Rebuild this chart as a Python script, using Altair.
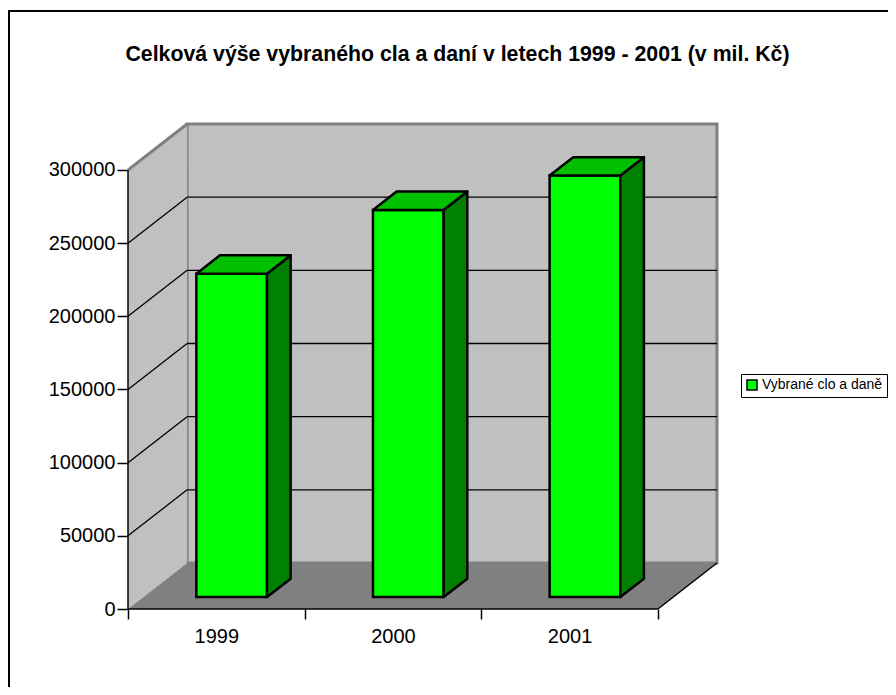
import altair as alt
import pandas as pd

# ---- data ----
YEARS = ["1999", "2000", "2001"]
VALUES = [221000, 264500, 288000]
SERIES = "Vybrané clo a daně"
TITLE = "Celková výše vybraného cla a daní v letech 1999 - 2001 (v mil. Kč)"
Y_TICKS = [0, 50000, 100000, 150000, 200000, 250000, 300000]
Y_MAX = 300000

# ---- 3D style constants (oblique projection) ----
DEPTH_X = 0.3346   # depth shift in category widths
DEPTH_Y = 31435    # depth shift in value units
F_FRONT = 0.26     # bar front face depth fraction
F_BACK = 0.66      # bar back face depth fraction
HALF_W = 0.2       # half bar width (category units)

FONT = "Liberation Sans"
N = len(YEARS)
XS = alt.Scale(domain=[0, N + DEPTH_X], nice=False, zero=False)
YS = alt.Scale(domain=[0, Y_MAX + DEPTH_Y], nice=False, zero=False)


def X(f, **kw):
    return alt.X(f, scale=XS, stack=None, **kw)


def Y(f, **kw):
    return alt.Y(f, scale=YS, stack=None, **kw)


# ---- axes carrier (first layer, invisible) ----
labels_js = "[" + ",".join("'" + y + "'" for y in YEARS) + "]"
x_axis = alt.Axis(
    values=[i * 0.5 for i in range(2 * N + 1)],
    labelExpr="(datum.value % 1) != 0 ? " + labels_js + "[floor(datum.value)] : ''",
    tickOpacity={"condition": {"test": "(datum.value % 1) != 0", "value": 0}, "value": 1},
    domain=False, grid=False, title=None, tickSize=10, tickWidth=1.5, tickColor="black",
    labelFontSize=20, labelFont=FONT, labelColor="black", labelPadding=7,
    labelOverlap=False, labelFlush=False, labelBound=False)
y_axis = alt.Axis(
    values=Y_TICKS, format="d", domain=False, grid=False, title=None,
    tickSize=11, tickWidth=1.5, tickColor="black", labelFontSize=20, labelFont=FONT,
    labelColor="black", labelPadding=2, labelOverlap=False, labelFlush=False)

edge_df = pd.DataFrame([
    {"x1": 0, "y1": 0, "x2": N, "y2": 0},
    {"x1": N, "y1": 0, "x2": N + DEPTH_X, "y2": DEPTH_Y},
    {"x1": 0, "y1": 0, "x2": 0, "y2": Y_MAX},
])
axes_layer = alt.Chart(edge_df).mark_rule(opacity=0).encode(
    x=alt.X("x1:Q", scale=XS, axis=x_axis), x2="x2:Q",
    y=alt.Y("y1:Q", scale=YS, axis=y_axis), y2="y2:Q")

# ---- walls and floor ----
back_df = pd.DataFrame([{"x": DEPTH_X, "x2": N + DEPTH_X, "y": DEPTH_Y, "y2": Y_MAX + DEPTH_Y}])
back = alt.Chart(back_df).mark_rect(fill="#c0c0c0", stroke="#808080", strokeWidth=3).encode(
    x=X("x:Q"), x2="x2:Q", y=Y("y:Q"), y2="y2:Q")

left_df = pd.DataFrame([
    {"x": 0, "y": 0, "y2": Y_MAX},
    {"x": DEPTH_X, "y": DEPTH_Y, "y2": Y_MAX + DEPTH_Y},
])
left = alt.Chart(left_df).mark_area(orient="vertical", fill="#c0c0c0").encode(
    x=X("x:Q"), y=Y("y:Q"), y2="y2:Q")

floor_df = pd.DataFrame([
    {"y": 0, "x": 0, "x2": N},
    {"y": DEPTH_Y, "x": DEPTH_X, "x2": N + DEPTH_X},
])
floor = alt.Chart(floor_df).mark_area(orient="horizontal", fill="#808080").encode(
    y=Y("y:Q"), x=X("x:Q"), x2="x2:Q")

# gridlines
grid_rows = []
for t in Y_TICKS[1:-1]:
    grid_rows.append({"x1": 0, "y1": t, "x2": DEPTH_X, "y2": t + DEPTH_Y})
    grid_rows.append({"x1": DEPTH_X, "y1": t + DEPTH_Y, "x2": N + DEPTH_X, "y2": t + DEPTH_Y})
grid = alt.Chart(pd.DataFrame(grid_rows)).mark_rule(color="black", strokeWidth=1.3).encode(
    x=X("x1:Q"), x2="x2:Q", y=Y("y1:Q"), y2="y2:Q")

gray_df = pd.DataFrame([{"x1": 0, "y1": Y_MAX, "x2": DEPTH_X, "y2": Y_MAX + DEPTH_Y}])
gray_edge = alt.Chart(gray_df).mark_rule(color="#808080", strokeWidth=3).encode(
    x=X("x1:Q"), x2="x2:Q", y=Y("y1:Q"), y2="y2:Q")

edges = alt.Chart(edge_df).mark_rule(color="black", strokeWidth=1.5).encode(
    x=X("x1:Q"), x2="x2:Q", y=Y("y1:Q"), y2="y2:Q")

# ---- bars ----
front_rows, side_rows, top_rows = [], [], []
for i, (yr, v) in enumerate(zip(YEARS, VALUES)):
    c = i + 0.5
    xl_f = c - HALF_W + F_FRONT * DEPTH_X
    xr_f = c + HALF_W + F_FRONT * DEPTH_X
    xl_b = c - HALF_W + F_BACK * DEPTH_X
    xr_b = c + HALF_W + F_BACK * DEPTH_X
    yb_f = F_FRONT * DEPTH_Y
    yb_b = F_BACK * DEPTH_Y
    front_rows.append({"series": SERIES, "year": yr, "x": xl_f, "x2": xr_f, "y": yb_f, "y2": v + yb_f})
    side_rows.append({"id": yr, "x": xr_f, "y": yb_f, "y2": v + yb_f})
    side_rows.append({"id": yr, "x": xr_b, "y": yb_b, "y2": v + yb_b})
    top_rows.append({"id": yr, "y": v + yb_f, "x": xl_f, "x2": xr_f})
    top_rows.append({"id": yr, "y": v + yb_b, "x": xl_b, "x2": xr_b})

legend = alt.Legend(
    title=None, orient="none", legendX=613, legendY=250, strokeColor="black",
    fillColor="white", padding=4, symbolType="square", symbolSize=100,
    symbolStrokeColor="black", symbolStrokeWidth=1.5, labelFont=FONT,
    labelFontSize=14, labelColor="black", labelOffset=3)

front = alt.Chart(pd.DataFrame(front_rows)).mark_rect(stroke="black", strokeWidth=2.5).encode(
    x=X("x:Q"), x2="x2:Q", y=Y("y:Q"), y2="y2:Q",
    color=alt.Color("series:N", scale=alt.Scale(range=["#00ff00"]), legend=legend))

side = alt.Chart(pd.DataFrame(side_rows)).mark_area(
    orient="vertical", fill="#008000", stroke="black", strokeWidth=2.5, strokeJoin="round").encode(
    x=X("x:Q"), y=Y("y:Q"), y2="y2:Q", detail="id:N")

top = alt.Chart(pd.DataFrame(top_rows)).mark_area(
    orient="horizontal", fill="#00c000", stroke="black", strokeWidth=2.5, strokeJoin="round").encode(
    y=Y("y:Q"), x=X("x:Q"), x2="x2:Q", detail="id:N")

# ---- frame lines (decoration) ----
frame = alt.Chart(pd.DataFrame([{"k": 1}])).mark_rule(color="black", strokeWidth=2, clip=False).encode(
    x=alt.value(-119), x2=alt.value(-119), y=alt.value(-113), y2=alt.value(600))
frame_top = alt.Chart(pd.DataFrame([{"k": 1}])).mark_rule(color="black", strokeWidth=2, clip=False).encode(
    x=alt.value(-120), x2=alt.value(800), y=alt.value(-113), y2=alt.value(-113))

chart = alt.layer(
    axes_layer, back, left, floor, grid, gray_edge, edges, front, side, top, frame, frame_top
).properties(
    width=589, height=485,
    title=alt.TitleParams(TITLE, font=FONT, fontSize=21.3, fontWeight="bold", color="black",
                          anchor="middle", frame="group", offset=-72, dx=35,
                          baseline="alphabetic"),
    autosize=alt.AutoSizeParams(type="none"),
    padding={"left": 120, "top": 116, "right": 171, "bottom": 78},
    background="white",
).configure_view(stroke=None)

chart.save("out.html", embed_options={"renderer": "svg", "actions": False})
